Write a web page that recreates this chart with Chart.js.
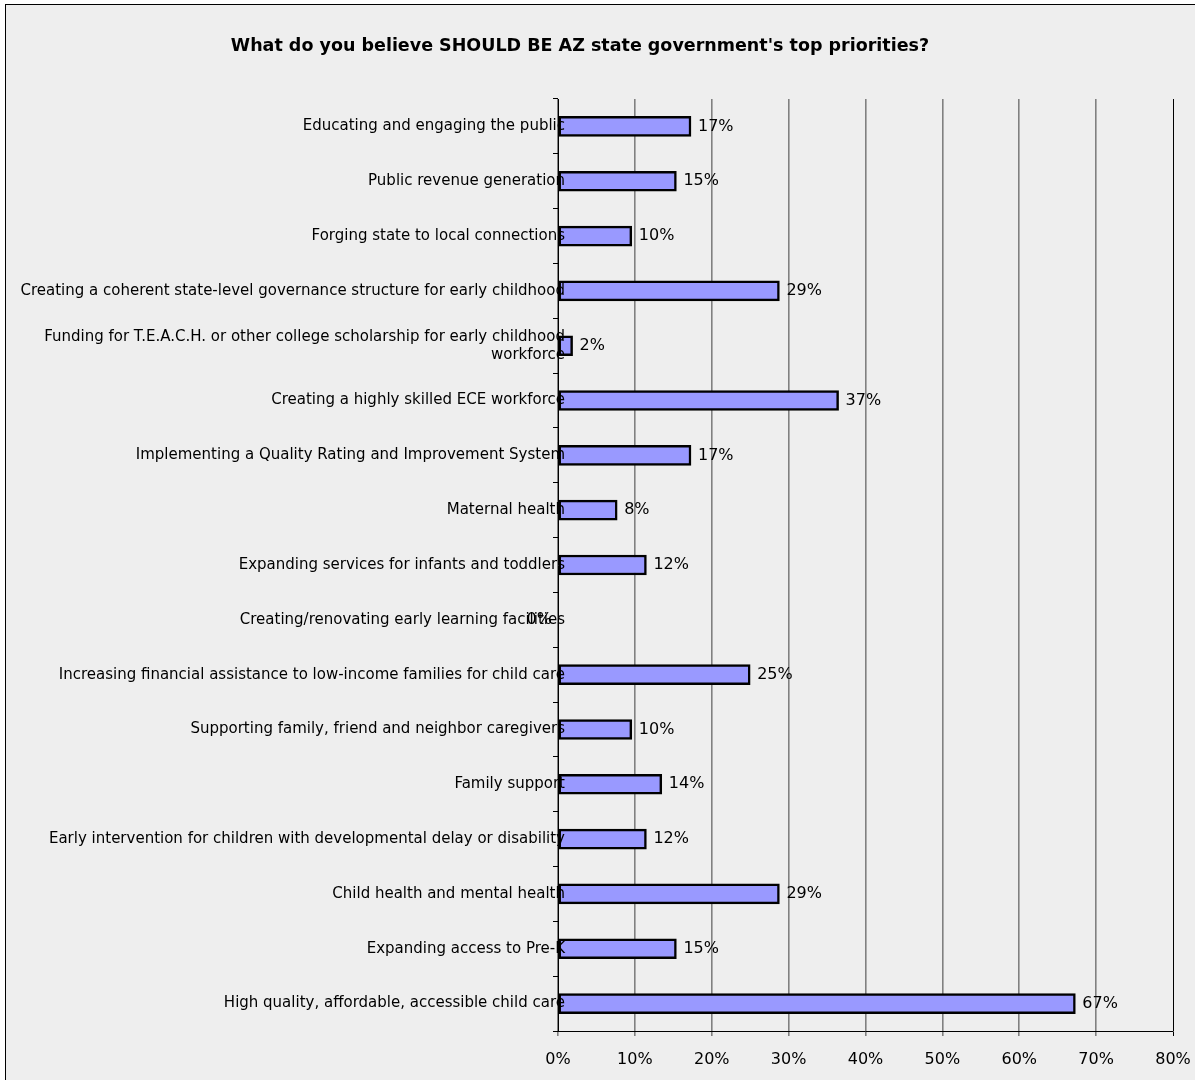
<!DOCTYPE html>
<html>
<head>
<meta charset="utf-8">
<script src="https://cdn.jsdelivr.net/npm/chart.js@4/dist/chart.umd.min.js"></script>
<style>
  html, body { margin: 0; background: #fff; overflow: hidden; width: 1195px; height: 1080px; }
  #box { position: absolute; left: 5px; top: 4px; right: 0; bottom: 0; background: #eeeeee; border-left: 1px solid #000; border-top: 1px solid #000; }
  #chart { position: absolute; left: 0; top: 0; }
</style>
</head>
<body>
<div id="box"></div>
<canvas id="chart" width="1195" height="1080"></canvas>
<script>
// prioridades - respostas da pesquisa (% dos respondentes)
const titulo = "What do you believe SHOULD BE AZ state government's top priorities?";

const categorias = [
  'Educating and engaging the public',
  'Public revenue generation',
  'Forging state to local connections',
  'Creating a coherent state-level governance structure for early childhood',
  ['Funding for T.E.A.C.H. or other college scholarship for early childhood', 'workforce'],
  'Creating a highly skilled ECE workforce',
  'Implementing a Quality Rating and Improvement System',
  'Maternal health',
  'Expanding services for infants and toddlers',
  'Creating/renovating early learning facilities',
  'Increasing financial assistance to low-income families for child care',
  'Supporting family, friend and neighbor caregivers',
  'Family support',
  'Early intervention for children with developmental delay or disability',
  'Child health and mental health',
  'Expanding access to Pre-K',
  'High quality, affordable, accessible child care',
];

const valores = [17.3, 15.4, 9.6, 28.8, 1.9, 36.5, 17.3, 7.7, 11.5, 0, 25.0, 9.6, 13.5, 11.5, 28.8, 15.4, 67.3];

const FONTE = '"DejaVu Sans", Verdana, sans-serif';

const tituloPlugin = {
  id: 'tituloPlugin',
  afterDraw(chart) {
    const ctx = chart.ctx;
    ctx.save();
    ctx.font = 'bold 17.5px ' + FONTE;
    ctx.fillStyle = '#000';
    ctx.textAlign = 'center';
    ctx.textBaseline = 'middle';
    ctx.fillText(titulo, 580, 46);
    ctx.restore();
  },
};

// rótulos das categorias desenhados por cima das barras (como no original)
const categoriasPlugin = {
  id: 'categoriasPlugin',
  afterDatasetsDraw(chart) {
    const ctx = chart.ctx;
    const y = chart.scales.y;
    const xBase = chart.chartArea.left + 7;
    ctx.save();
    ctx.font = '15px ' + FONTE;
    ctx.fillStyle = '#000';
    ctx.textAlign = 'right';
    ctx.textBaseline = 'middle';
    categorias.forEach((lab, i) => {
      const linhas = Array.isArray(lab) ? lab : [lab];
      const yc = y.getPixelForTick(i);
      const lh = 18;
      const y0 = yc - (linhas.length - 1) * lh / 2;
      linhas.forEach((t, j) => ctx.fillText(t, xBase, y0 + j * lh));
    });
    ctx.restore();
  },
};

const rotulosPlugin = {
  id: 'rotulosPlugin',
  afterDatasetsDraw(chart) {
    const ctx = chart.ctx;
    const meta = chart.getDatasetMeta(0);
    ctx.save();
    ctx.font = '16px ' + FONTE;
    ctx.fillStyle = '#000';
    ctx.textBaseline = 'middle';
    meta.data.forEach((bar, i) => {
      const v = valores[i];
      const txt = Math.round(v) + '%';
      if (v === 0) {
        ctx.textAlign = 'right';
        ctx.fillText(txt, bar.x - 6, bar.y);
      } else {
        ctx.textAlign = 'left';
        ctx.fillText(txt, bar.x + 7, bar.y);
      }
    });
    ctx.restore();
  },
};

new Chart(document.getElementById('chart').getContext('2d'), {
  type: 'bar',
  data: {
    labels: categorias,
    datasets: [{
      data: valores,
      backgroundColor: '#9999ff',
      borderColor: '#000',
      borderWidth: 2.5,
      borderSkipped: false,
      barThickness: 20,
    }],
  },
  options: {
    indexAxis: 'y',
    responsive: false,
    animation: false,
    layout: { padding: { left: 0, right: 22, top: 99, bottom: 0 } },
    plugins: {
      legend: { display: false },
      title: { display: false },
      tooltip: { enabled: false },
    },
    scales: {
      x: {
        min: 0,
        max: 80,
        ticks: {
          stepSize: 10,
          color: '#000',
          padding: 14,
          font: { family: FONTE, size: 16 },
          callback: (v) => v + '%',
        },
        grid: {
          color: (c) => (c.tick && c.tick.value === 80 ? '#000' : '#808080'),
          lineWidth: (c) => (c.tick && c.tick.value === 80 ? 1 : 1.6),
          tickLength: 5,
          drawTicks: true,
        },
        border: { color: '#000', width: 1 },
        afterFit: (scale) => {
          scale.height = 49;
          scale.paddingLeft = 0;
          scale.paddingRight = 0;
        },
      },
      y: {
        offset: true,
        ticks: { display: false },
        grid: { drawOnChartArea: false, color: '#000', tickLength: 5, offset: true },
        border: { color: '#000', width: 1 },
        afterFit: (scale) => { scale.width = 558; },
      },
    },
  },
  plugins: [tituloPlugin, categoriasPlugin, rotulosPlugin],
});
</script>
</body>
</html>
